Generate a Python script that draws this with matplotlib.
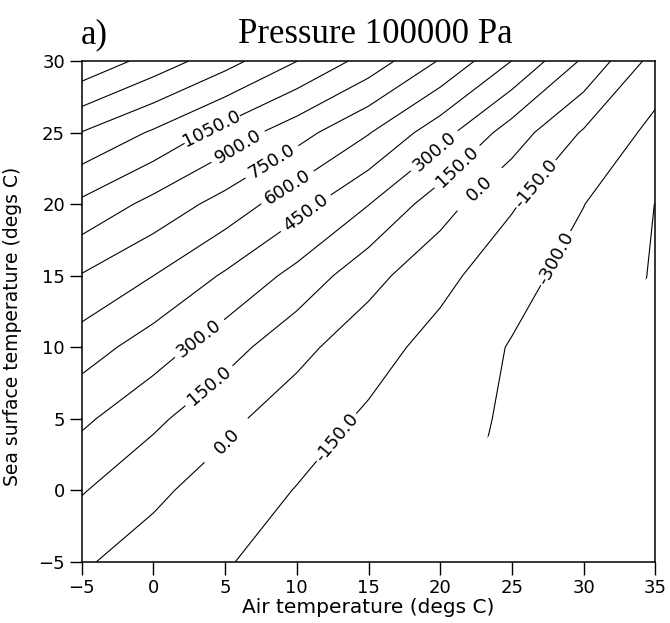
import numpy as np
import matplotlib
matplotlib.use('Agg')
import matplotlib.pyplot as plt
from matplotlib.patches import Polygon

plt.rcParams['font.family'] = ['DejaVu Sans']

# grid of the chart (degs C)
AIR_TEMP = [-5, 0, 5, 10, 15, 20, 25, 30, 35]
SEA_TEMP = [-5, 0, 5, 10, 15, 20, 25, 30]

# values at the grid nodes, one row per sea temperature
FLUX_SST_M5 = [16, -63, -141, -205, -250, -300, -350, -400, -440]
FLUX_SST_0 = [161, 29, -69, -156, -224, -270, -330, -390, -440]
FLUX_SST_5 = [329, 183, 35, -78, -172, -247, -320, -380, -450]
FLUX_SST_10 = [523, 375, 214, 43, -90, -203, -310, -400, -470]
FLUX_SST_15 = [741, 600, 431, 253, 50, -107, -245, -360, -462]
FLUX_SST_20 = [1019, 854, 692, 507, 304, 63, -135, -297, -452]
FLUX_SST_25 = [1345, 1180, 993, 810, 609, 360, 76, -166, -344]
FLUX_SST_30 = [1770, 1590, 1407, 1202, 990, 738, 448, 126, -209]

LEVELS = [-450, -300, -150, 0, 150, 300, 450, 600, 750, 900,
          1050, 1200, 1350, 1500, 1650]

# no data where sea temp - air temp falls below this
MIN_DIFF = -19.6

X_TICKS = [-5, 0, 5, 10, 15, 20, 25, 30, 35]
Y_TICKS = [-5, 0, 5, 10, 15, 20, 25, 30]

# where the contour labels sit
LABEL_POS = {
    1050: [(4.1, 25.2)],
    900: [(5.7, 24.35)],
    750: [(8.3, 22.9)],
    600: [(9.4, 21.1)],
    450: [(10.6, 19.4)],
    300: [(3.3, 10.5), (19.65, 23.65)],
    150: [(3.8, 7.4), (21.1, 22.7)],
    0: [(4.9, 3.65), (22.6, 21.2)],
    -150: [(12.6, 3.85), (26.6, 21.5)],
    -300: [(27.75, 16.4)],
}

flux = np.array([FLUX_SST_M5, FLUX_SST_0, FLUX_SST_5, FLUX_SST_10,
                 FLUX_SST_15, FLUX_SST_20, FLUX_SST_25, FLUX_SST_30])

fig = plt.figure(figsize=(6.7, 6.23), dpi=100)
ax = fig.add_axes([0.122, 0.098, 0.856, 0.804])

cs = ax.contour(AIR_TEMP, SEA_TEMP, flux, levels=LEVELS, colors='black',
                linewidths=0.8, linestyles='solid')

x0, x1 = AIR_TEMP[0], AIR_TEMP[-1]
y0, y1 = SEA_TEMP[0], SEA_TEMP[-1]
valid = Polygon([(x0, y0), (y0 - MIN_DIFF, y0), (x1, x1 + MIN_DIFF),
                 (x1, y1), (x0, y1)], closed=True, transform=ax.transData)
cs.set_clip_path(valid)

# set up label props for all levels, then place each label on its own level
ax.clabel(cs, levels=LEVELS, manual=[], inline=True, fmt='%.1f',
          fontsize=13)
for lev, pos in LABEL_POS.items():
    cs.labelIndiceList = [LEVELS.index(lev)]
    for x, y in pos:
        cs.add_label_near(x, y, inline=True, inline_spacing=2)

ax.set_xlim(x0, x1)
ax.set_ylim(y0, y1)
ax.set_xticks(X_TICKS)
ax.set_yticks(Y_TICKS)
ax.tick_params(direction='out', length=9, width=1, labelsize=13, pad=3)
for sp in ax.spines.values():
    sp.set_linewidth(1.1)

ax.set_xlabel('Air temperature (degs C)', fontsize=14.5)
ax.set_ylabel('Sea surface temperature (degs C)', fontsize=13.5)
ax.xaxis.set_label_coords(0.5, -0.09)
ax.xaxis.label.set_va('center')
ax.yaxis.set_label_coords(-0.12, 0.47)
ax.yaxis.label.set_va('center')

fig.text(81 / 670, 1 - 43 / 623, 'a)', family='Liberation Serif',
         fontsize=25, ha='left', va='baseline')
fig.text(375 / 670, 1 - 43 / 623, 'Pressure 100000 Pa',
         family='Liberation Serif', fontsize=25, ha='center', va='baseline')

fig.savefig('out.png', dpi=100)
